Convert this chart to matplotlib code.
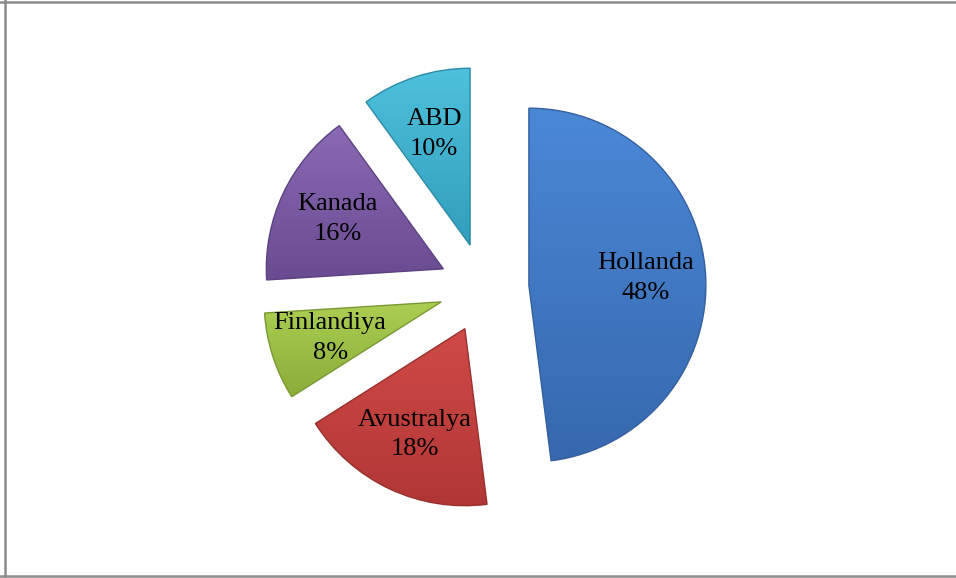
import numpy as np
import matplotlib
matplotlib.use('Agg')
import matplotlib.pyplot as plt
from matplotlib.colors import to_rgb
from matplotlib.lines import Line2D

plt.rcParams['font.family'] = ['Liberation Serif', 'DejaVu Serif']

# veriler
ulkeler = ['Hollanda', 'Avustralya', 'Finlandiya', 'Kanada', 'ABD']
yuzdeler = [48, 18, 8, 16, 10]

# her dilim için üst / alt renk (gradyan)
renk_ust = ['#4A88D6', '#D04A46', '#ABCE52', '#8A6AB4', '#4EC1DC']
renk_alt = ['#3768AE', '#B03636', '#8AAD3A', '#6A4B91', '#319EBC']
kenar = ['#355F9E', '#98302E', '#7A9834', '#5C4280', '#2C8BA5']

fig = plt.figure(figsize=(9.56, 5.78), dpi=100)
ax = fig.add_axes([0, 0, 1, 1])

etiketler = [f'{u}\n{y}%' for u, y in zip(ulkeler, yuzdeler)]
wedges, texts = ax.pie(yuzdeler, labels=etiketler, startangle=90,
                       counterclock=False, explode=[0.254] * len(yuzdeler),
                       labeldistance=0.66, radius=1.0,
                       wedgeprops=dict(linewidth=1.0))

for w, c1, c2, ke in zip(wedges, renk_ust, renk_alt, kenar):
    v = w.get_path().vertices
    x0, x1 = v[:, 0].min(), v[:, 0].max()
    y0, y1 = v[:, 1].min(), v[:, 1].max()
    t = np.linspace(0, 1, 200)[:, None, None]
    img = (1 - t) * np.array(to_rgb(c1)) + t * np.array(to_rgb(c2))
    im = ax.imshow(img, extent=[x0, x1, y0, y1], origin='upper',
                   aspect='auto', zorder=1, interpolation='bilinear')
    im.set_clip_path(w)
    w.set_facecolor('none')
    w.set_edgecolor(ke)
    w.set_zorder(2)

for t in texts:
    t.set_fontsize(19)
    t.set_ha('center')
    t.set_va('center')
    t.set_linespacing(1.45)
    t.set_zorder(3)

# piksel ölçeği: yarıçap 177 px, merkez (484, 288)
ax.set_xlim(-484 / 177, (956 - 484) / 177)
ax.set_ylim(-(578 - 288) / 177, 288 / 177)
ax.set_aspect('auto')
ax.axis('off')

# çerçeve
gri = '#8C8C8C'
fig.add_artist(Line2D([4.5 / 956, 4.5 / 956], [0, 1], color=gri, lw=1.8))
fig.add_artist(Line2D([0, 1], [1 - 1.5 / 578, 1 - 1.5 / 578], color=gri, lw=1.8))
fig.add_artist(Line2D([0, 1], [2 / 578, 2 / 578], color=gri, lw=1.8))

plt.savefig('out.png', dpi=100)
